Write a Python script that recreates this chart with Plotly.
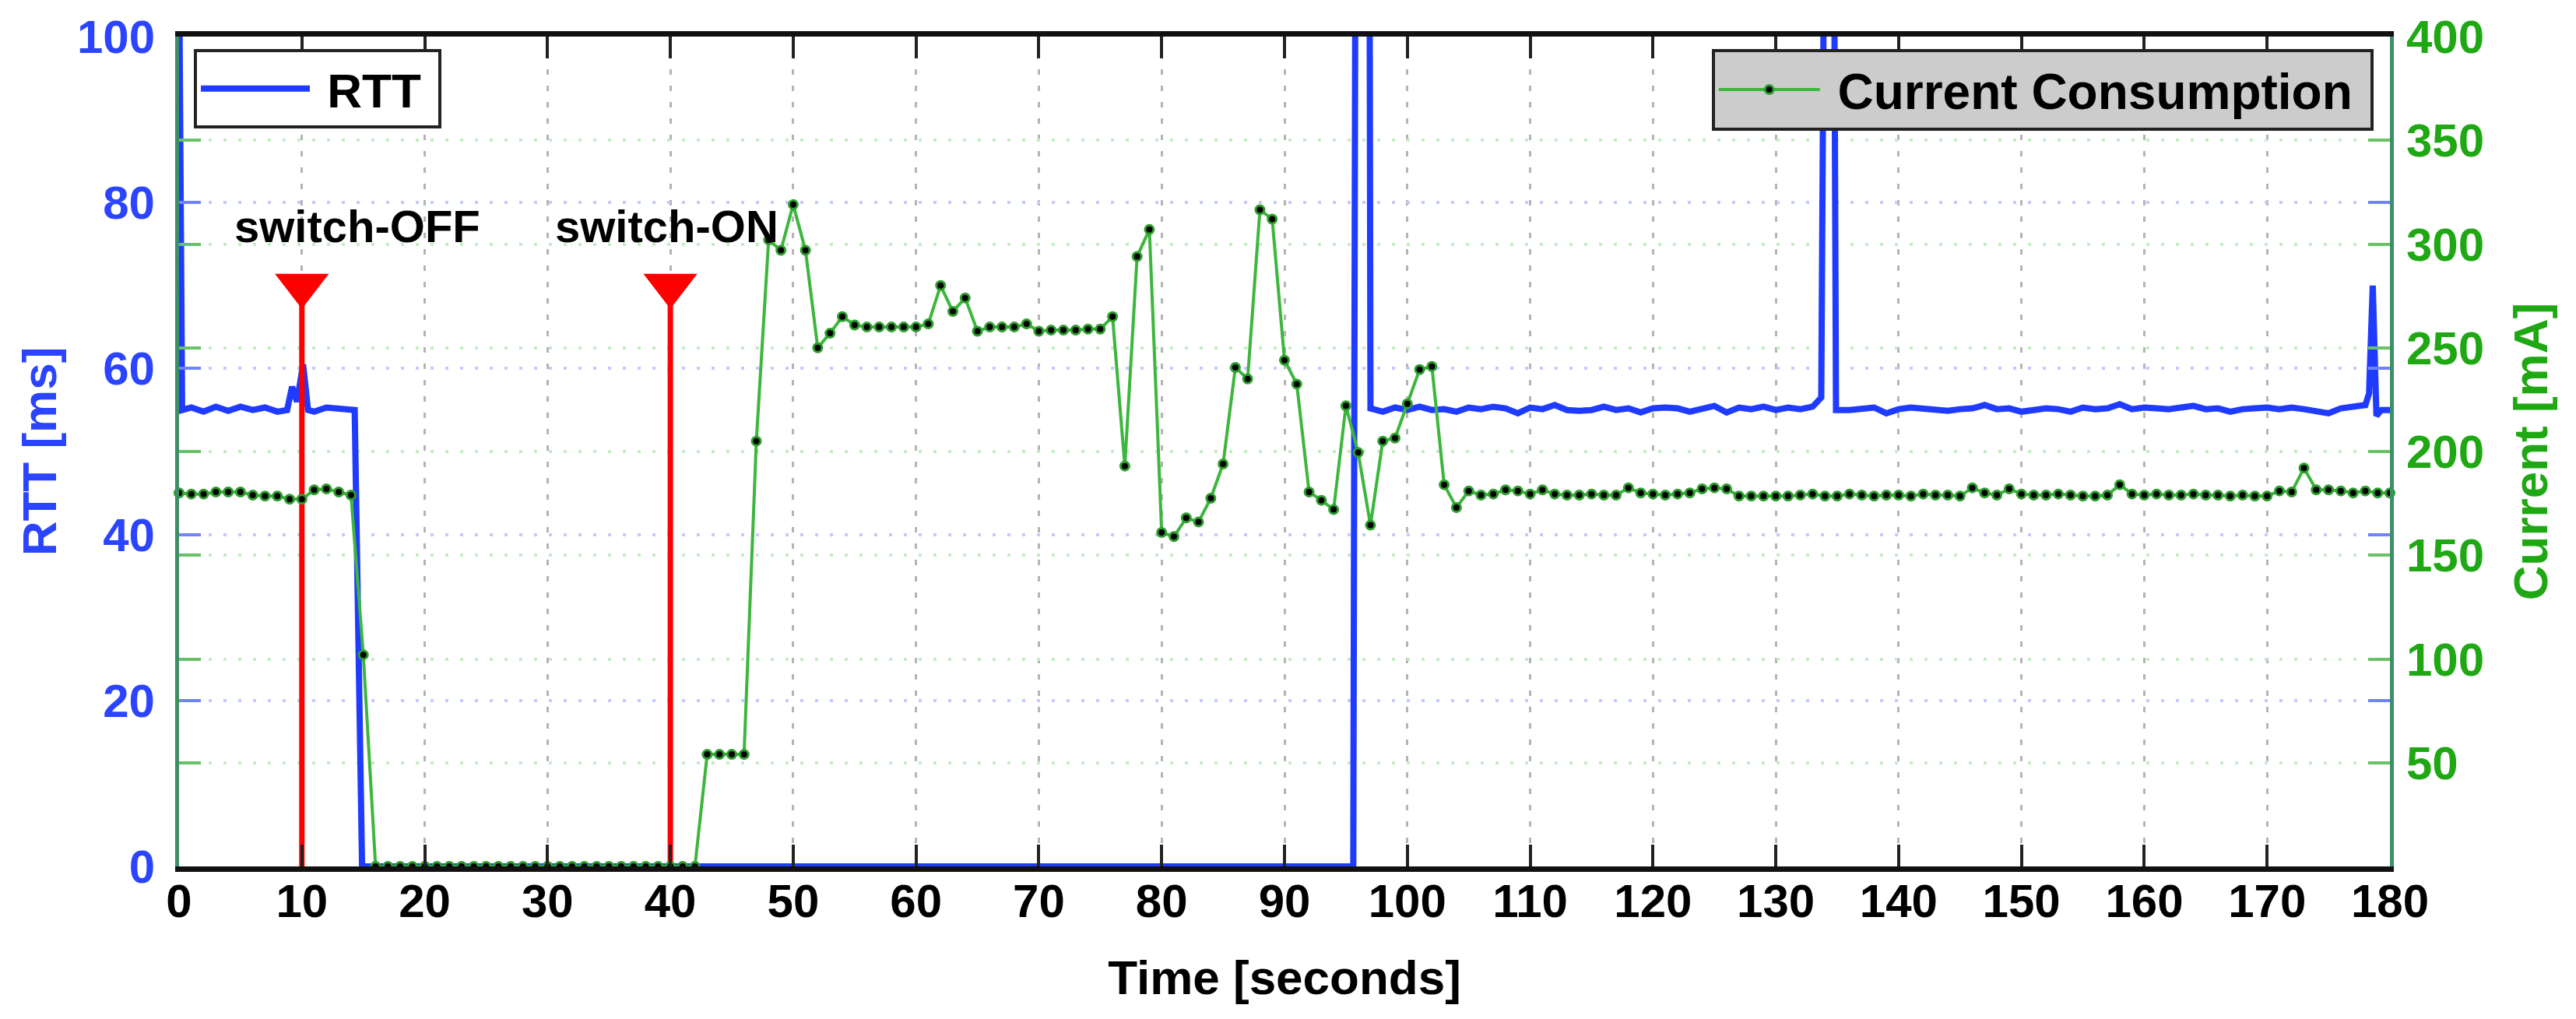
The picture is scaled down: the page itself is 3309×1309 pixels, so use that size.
import plotly.graph_objects as go

FONT = "Liberation Sans, Arial, Helvetica, sans-serif"
BLUE_LINE = "#1f3bff"
BLUE_TEXT = "#2a44ff"
GREEN_LINE = "#3cb63c"
GREEN_TEXT = "#20a814"
AXIS_SIDE = "#3d8f66"
NBSP = "\u00a0"

# current consumption, one sample per second (mA)
current_t = list(range(0, 181))
current_ma = [
    180, 179.5, 179.5, 180.5, 180.5, 180.5, 179, 178.5, 178.5, 177,            # 0-9
    177, 181.5, 182, 180.5, 179, 102, 0, 0, 0, 0,                              # 10-19
    0, 0, 0, 0, 0, 0, 0, 0, 0, 0,                                              # 20-29
    0, 0, 0, 0, 0, 0, 0, 0, 0, 0,                                              # 30-39
    0, 0, 0, 54, 54, 54, 54, 205, 302, 297,                                    # 40-49
    319, 297, 250, 257, 265, 261, 260, 260, 260, 260,                          # 50-59
    260, 261.5, 280, 267.5, 274, 258, 260, 260, 260, 261.5,                    # 60-69
    258, 258.5, 258.5, 258.5, 259, 259, 265, 193, 294, 307,                    # 70-79
    161, 159, 168, 166, 177.5, 194, 240.5, 235, 316.5, 312,                    # 80-89
    244, 232.5, 180.5, 176.5, 172, 222, 199.5, 164.5, 205, 206.5,              # 90-99
    223, 239.5, 241, 184, 173, 181, 179, 179.5, 181.5, 181,                    # 100-109
    179.5, 181.5, 179.5, 179, 179, 179.5, 179, 179, 182.5, 180,                # 110-119
    179.5, 179, 179.5, 180, 182, 182.5, 182, 178.5, 178.5, 178.5,              # 120-129
    178.5, 178.5, 179, 179.5, 178.5, 178.5, 179.5, 179, 178.5, 179,            # 130-139
    179, 178.5, 179.5, 179, 179, 178.5, 182.5, 180, 179, 182,                  # 140-149
    179.5, 179, 179, 179.5, 179, 178.5, 178.5, 179, 184, 179.5,                # 150-159
    179, 179.5, 179, 179, 179.5, 179, 179, 178.5, 179, 178.5,                  # 160-169
    178.5, 181, 180.5, 192, 181.5, 181.5, 181, 180, 181, 180,                  # 170-179
    180,                                                                       # 180
]

# round trip time samples (ms); values above 100 run off the top of the axis
rtt_t = [
    0, 0.25, 1, 2, 3, 4, 5, 6, 7, 8, 8.8, 9.2, 9.6, 10.1, 10.5, 11, 12, 13, 14.3, 14.9,
    95.6, 95.8, 96.9, 97.0,
    98, 99, 100, 101, 102, 103, 104, 105, 106, 107, 108, 109, 110, 111, 112, 113, 114,
    115, 116, 117, 118, 119, 120, 121, 122, 123, 124, 125, 126, 127, 128, 129, 130,
    131, 132, 133, 133.7, 134.0, 134.7, 134.9, 136, 137, 138, 139, 140, 141, 142, 143,
    144, 145, 146, 147, 148, 149, 150, 151, 152, 153, 154, 155, 156, 157, 158, 159,
    160, 161, 162, 163, 164, 165, 166, 167, 168, 169, 170, 171, 172, 173, 174, 175,
    176, 177, 178, 178.3, 178.6, 178.9, 179.3, 180,
]
rtt_ms = [
    110, 55, 55.3, 54.8, 55.4, 54.9, 55.4, 55, 55.3, 54.8, 55, 57.8, 56, 60.5, 55, 54.8, 55.3, 55.2, 55, 0,
    0, 130, 130, 55.2,
    54.8, 55.3, 55, 55.4, 55, 55.1, 54.8, 55.3, 55.1, 55.4, 55.2, 54.6, 55.3, 55.1, 55.6, 55, 54.9,
    55, 55.4, 55, 55.2, 54.7, 55.2, 55.3, 55.2, 54.8, 55.1, 55.5, 54.7, 55.3, 55.1, 55.4, 55.0,
    55.3, 55.1, 55.4, 56.5, 130, 130, 55, 55, 55.2, 55.3, 54.6, 55.1, 55.3, 55.2, 55,
    54.9, 55.1, 55.2, 55.6, 55.1, 55.2, 54.8, 55, 55.2, 55.1, 54.8, 55.3, 55.1, 55.2, 55.7, 55.1,
    55.3, 55.2, 55.1, 55.3, 55.5, 55.1, 55.2, 54.8, 55.1, 55.2, 55.3, 55.1, 55.3, 55.1, 54.9, 54.6,
    55.2, 55.4, 55.6, 57, 70, 54.3, 55, 55,
]

# switch events
event_t = [10, 40]
event_ms = [70, 70]
event_labels = ["switch-OFF", "switch-ON"]
label_t = [4.4, 30.5]
label_ms = [77.2, 77.2]

x_ticks = list(range(0, 181, 10))
rtt_ticks = [0, 20, 40, 60, 80, 100]
current_ticks = [50, 100, 150, 200, 250, 300, 350, 400]

fig = go.Figure()

fig.add_trace(go.Scatter(
    x=rtt_t, y=rtt_ms, mode="lines", name=NBSP + "RTT" + NBSP,
    line=dict(color=BLUE_LINE, width=8), legend="legend", yaxis="y",
))

stem_x, stem_y = [], []
for t, ms in zip(event_t, event_ms):
    stem_x += [t, t, None]
    stem_y += [0, ms, None]
fig.add_trace(go.Scatter(
    x=stem_x, y=stem_y, mode="lines", line=dict(color="#ff0000", width=7),
    showlegend=False, yaxis="y",
))
fig.add_trace(go.Scatter(
    x=event_t, y=event_ms, mode="markers",
    marker=dict(symbol="triangle-down", size=60, color="#ff0000", line=dict(width=0)),
    showlegend=False, yaxis="y",
))

fig.add_trace(go.Scatter(
    x=current_t, y=current_ma, mode="lines+markers",
    name=NBSP + "Current Consumption" + NBSP,
    line=dict(color=GREEN_LINE, width=4),
    marker=dict(symbol="circle", size=11, color="black", line=dict(color="#2e9e2e", width=3)),
    legend="legend2", yaxis="y2", cliponaxis=False,
))

for text, t, ms in zip(event_labels, label_t, label_ms):
    fig.add_annotation(
        x=t, y=ms, xref="x", yref="y", text=text, showarrow=False,
        xanchor="left", yanchor="middle",
        font=dict(family=FONT, size=58, color="black", weight="bold"),
    )

tick_font = dict(family=FONT, size=60, weight="bold")

fig.update_layout(
    width=3309, height=1309,
    margin=dict(l=222, r=247, t=39, b=204),
    paper_bgcolor="white", plot_bgcolor="white",
    font=dict(family=FONT),
    xaxis=dict(
        range=[0, 180], tickvals=x_ticks, automargin=False,
        showline=True, linecolor="#111111", linewidth=7, mirror="ticks",
        ticks="inside", ticklen=28, tickwidth=4, tickcolor="#222222",
        tickfont=dict(tick_font, color="black"), ticklabelstandoff=-14,
        showgrid=True, gridcolor="#b4b4b4", gridwidth=3, griddash="7px,14px",
        zeroline=False,
        title=dict(text="Time [seconds]", standoff=46,
                   font=dict(family=FONT, size=62, color="black", weight="bold")),
    ),
    yaxis=dict(
        range=[0, 100], tickvals=rtt_ticks, automargin=False,
        showline=True, linecolor=AXIS_SIDE, linewidth=5, mirror="ticks",
        ticks="inside", ticklen=28, tickwidth=4, tickcolor="#6f83ff",
        tickfont=dict(tick_font, color=BLUE_TEXT), ticklabelstandoff=14,
        showgrid=True, gridcolor="#c3caff", gridwidth=4, griddash="4px,15px",
        zeroline=False,
        title=dict(text="RTT [ms]", standoff=8,
                   font=dict(family=FONT, size=62, color=BLUE_TEXT, weight="bold")),
    ),
    yaxis2=dict(
        range=[0, 400], tickvals=current_ticks, overlaying="y", side="right",
        automargin=False,
        showline=True, linecolor=AXIS_SIDE, linewidth=5, mirror="ticks",
        ticks="inside", ticklen=28, tickwidth=4, tickcolor="#66c266",
        tickfont=dict(tick_font, color=GREEN_TEXT), ticklabelstandoff=4,
        showgrid=True, gridcolor="#c6ebc6", gridwidth=4, griddash="4px,15px",
        zeroline=False,
        title=dict(text="Current [mA]", standoff=40,
                   font=dict(family=FONT, size=62, color=GREEN_TEXT, weight="bold")),
    ),
    legend=dict(
        x=0.0067, y=0.985, xanchor="left", yanchor="top",
        bgcolor="white", bordercolor="#222222", borderwidth=4,
        font=dict(family=FONT, size=62, color="black", weight="bold"),
        itemwidth=140, tracegroupgap=0,
    ),
    legend2=dict(
        x=0.9925, y=0.985, xanchor="right", yanchor="top",
        bgcolor="#cccccc", bordercolor="#222222", borderwidth=4,
        font=dict(family=FONT, size=64, color="black", weight="bold"),
        itemwidth=130, tracegroupgap=0,
    ),
)

fig.write_html("out.html")
